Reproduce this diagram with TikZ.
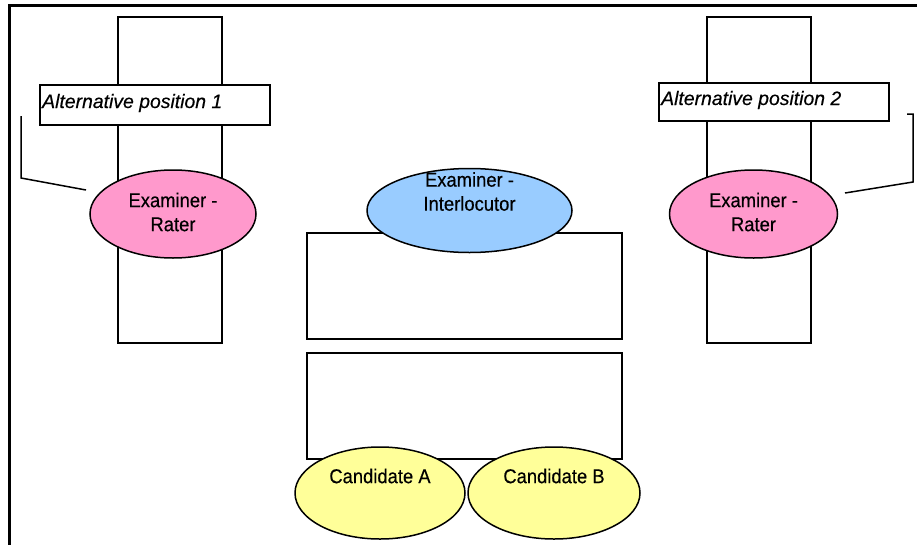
\documentclass[tikz,border=0pt]{standalone}
\usepackage{fontspec}
\setmainfont{Liberation Sans}[FakeBold=0.4,FakeStretch=0.92]
\newfontfamily\altfont{Liberation Sans}[FakeBold=0.4]
\usetikzlibrary{shapes.geometric}
\definecolor{raterpink}{HTML}{FF99CC}
\definecolor{interblue}{HTML}{99CCFF}
\definecolor{candyellow}{HTML}{FFFF99}
\tikzset{
  shape line/.style={draw=black, line width=1.5pt},
  column/.style={shape line, fill=white, rectangle, inner sep=0pt},
  desk/.style={shape line, fill=white, rectangle, inner sep=0pt},
  altbox/.style={shape line, fill=white, rectangle, inner sep=0pt},
  person/.style={shape line, ellipse, inner sep=0pt},
  ptext/.style={align=center, font=\fontsize{20}{24}\selectfont, inner sep=0pt},
  alttext/.style={anchor=base west, font=\altfont\fontsize{19.4}{22}\selectfont\itshape, inner sep=0pt},
  bracket/.style={draw=black, line width=1.5pt},
}
\begin{document}
\begin{tikzpicture}[x=1pt,y=-1pt]
\useasboundingbox (0,0) rectangle (917,544);
\fill[white] (0,0) rectangle (917,544);
% outer frame
\draw[line width=3pt] (9,5) rectangle (940,570);
% columns (side tables)
\node[column, minimum width=104pt, minimum height=326pt] (colL) at (170,180) {};
\node[column, minimum width=104pt, minimum height=326pt] (colR) at (759,180) {};
% alternative position boxes
\node[altbox, minimum width=230pt, minimum height=40pt] (altL) at (155,105) {};
\node[alttext] (altLt) at (42,108) {Alternative position 1};
\node[altbox, minimum width=230pt, minimum height=38pt] (altR) at (774,102) {};
\node[alttext] (altRt) at (661,105) {Alternative position 2};
% brackets
\coordinate (bLtop) at (21,116);
\coordinate (bLcorner) at (21,178);
\coordinate (bLend) at (86,190);
\coordinate (bRtick) at (907,114);
\coordinate (bRtop) at (913,114);
\coordinate (bRcorner) at (913,182);
\coordinate (bRend) at (845,193);
% desks
\node[desk, minimum width=315pt, minimum height=106pt] (deskU) at (464.5,286) {};
\node[desk, minimum width=315pt, minimum height=106pt] (deskL) at (464.5,406) {};
% people
\node[person, fill=raterpink, minimum width=166pt, minimum height=88pt] (raterL) at (173,214) {};
\node[ptext] (raterLt) at ([yshift=2pt]raterL.center) {Examiner -\\Rater};
\node[person, fill=raterpink, minimum width=168pt, minimum height=88pt] (raterR) at (753.5,214) {};
\node[ptext] (raterRt) at ([yshift=2pt]raterR.center) {Examiner -\\Rater};
\node[person, fill=interblue, minimum width=205pt, minimum height=84pt] (inter) at (469.5,210.5) {};
\node[ptext] (intert) at ([yshift=19pt]inter.center) {Examiner -\\Interlocutor};
\node[person, fill=candyellow, minimum width=170pt, minimum height=92pt] (candA) at (380,493) {};
\node[ptext] (candAt) at ([yshift=17pt]candA.center) {Candidate A};
\node[person, fill=candyellow, minimum width=172pt, minimum height=92pt] (candB) at (554,493) {};
\node[ptext] (candBt) at ([yshift=17pt]candB.center) {Candidate B};
% bracket connectors
\draw[bracket] (bLtop) -- (bLcorner) -- (bLend);
\draw[bracket] (bRtick) -- (bRtop) -- (bRcorner) -- (bRend);
\end{tikzpicture}
\end{document}
